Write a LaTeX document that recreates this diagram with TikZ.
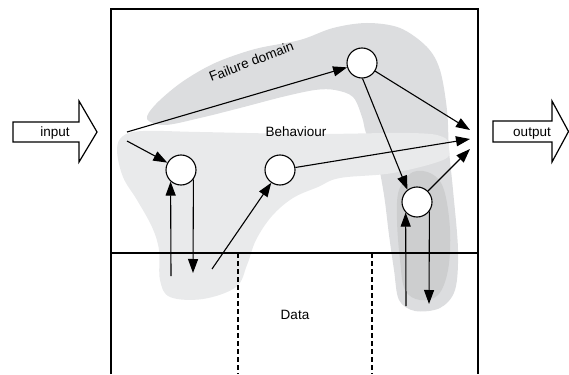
\documentclass[tikz,border=0pt]{standalone}
\usepackage{fontspec}
\setmainfont{Liberation Sans}
\usetikzlibrary{arrows.meta}
\definecolor{fdgray}{RGB}{220,221,223}
\definecolor{bhgray}{RGB}{233,234,235}
\definecolor{dkgray}{RGB}{205,206,207}
\begin{document}
\begin{tikzpicture}[x=1pt,y=-1pt,
  circ/.style={circle,draw,fill=white,minimum size=30pt,inner sep=0pt,line width=1.1pt},
  arr/.style={line width=1.1pt,-{Triangle[length=14pt,width=10pt]}},
  frame/.style={line width=1.3pt},
  bigarrow/.style={line width=1.2pt,fill=white,line join=miter},
  lbl/.style={font=\fontsize{13.5}{15}\selectfont,inner sep=0pt,anchor=base}]
\useasboundingbox (0,0) rectangle (569,374);
% regions
\fill[fdgray] plot[smooth cycle,tension=0.55] coordinates {
  (147,119) (156,104) (182,82) (215,63) (255,49) (300,40) (333,28) (367,23)
  (400,28) (427,47) (440,70) (447,110) (449,150) (453,190) (458,250)
  (455,290) (440,308) (415,311) (399,300) (394,270) (389,235) (384,195)
  (377,160) (366,133) (362,117) (353,97) (335,90) (315,90) (282,97)
  (240,108) (200,118) (165,125)};
\fill[bhgray] plot[smooth cycle,tension=0.6] coordinates {
  (123,136) (143,131) (200,132) (310,134) (410,133) (443,137) (449,149)
  (443,160) (393,173) (340,178) (318,187) (293,198) (272,216) (256,240)
  (247,265) (236,287) (203,299) (170,297) (160,280) (159,250) (152,227)
  (137,200) (123,177) (117,150)};
\fill[dkgray] plot[smooth cycle,tension=0.6] coordinates {
  (413,172) (432,174) (444,190) (450,230) (448,270) (438,295) (420,300)
  (405,290) (400,260) (397,220) (399,190)};
% frame
\draw[frame] (111,374) -- (111,9) -- (478,9) -- (478,374);
\draw[frame] (111,253) -- (478,253);
\draw[line width=1.1pt,dash pattern=on 5pt off 3pt] (238,253) -- (238,374);
\draw[line width=1.1pt,dash pattern=on 5pt off 3pt] (372,253) -- (372,374);
% big arrows
\draw[bigarrow] (13,122) -- (79,122) -- (79,101) -- (97,132) -- (79,162) -- (79,142) -- (13,142) -- cycle;
\draw[bigarrow] (493,121) -- (552,121) -- (552,101) -- (568.5,131.5) -- (552,162) -- (552,142) -- (493,142) -- cycle;
\node[lbl] (tin) at (55,136) {input};
\node[lbl] (tout) at (532,137) {output};
% texts
\node[lbl] (tbeh) at (296,137) {Behaviour};
\node[lbl] (tdata) at (295,319) {Data};
\node[lbl,rotate=21] (tfail) at (253,66) {Failure domain};
% circles
\node[circ] (c1) at (181,170) {};
\node[circ] (c2) at (280,170) {};
\node[circ] (c3) at (362,63) {};
\node[circ] (c4) at (417,202) {};
% free ends
\coordinate (s1) at (127,132);
\coordinate (s2) at (127,141);
\coordinate (b1) at (171,276);
\coordinate (d1) at (193,273);
\coordinate (b2) at (212,269);
\coordinate (o1) at (470,130);
\coordinate (o2) at (470,139);
\coordinate (o3) at (470,149);
\coordinate (b4) at (406,306);
\coordinate (d4) at (429,304);
% connectors
\draw[arr] (s1) -- (c3);
\draw[arr] (s2) -- (c1);
\draw[arr] (b1) -- (c1.-132);
\draw[arr] (c1.-37) -- (d1);
\draw[arr] (b2) -- (c2);
\draw[arr] (c2) -- (o2);
\draw[arr] (c3) -- (o1);
\draw[arr] (c3.-88) -- (c4.128);
\draw[arr] (c4) -- (o3);
\draw[arr] (b4) -- (c4.-137);
\draw[arr] (c4.-37) -- (d4);
\end{tikzpicture}
\end{document}
